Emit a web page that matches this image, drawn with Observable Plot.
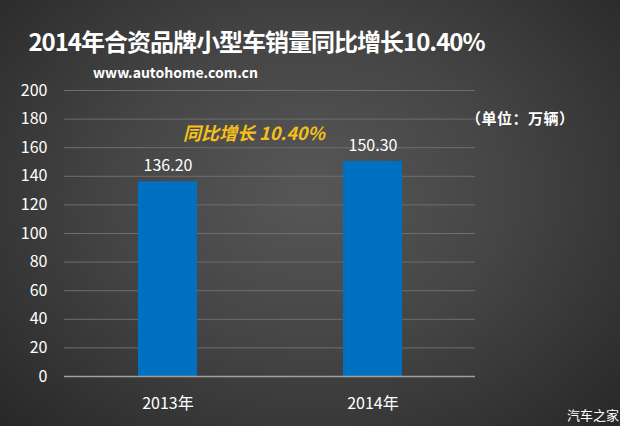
<!DOCTYPE html>
<html><head><meta charset="utf-8">
<script src="https://cdn.jsdelivr.net/npm/d3@7"></script>
<script src="https://cdn.jsdelivr.net/npm/@observablehq/plot@0.6"></script>
<style>
html,body{margin:0;padding:0;}
#wrap{position:relative;width:620px;height:426px;overflow:hidden;
 background:radial-gradient(ellipse 70% 80% at 50% 45%, #575757 0%, #454545 45%, #272727 100%);
 font-family:"Noto Sans CJK SC","Open Sans",sans-serif;color:#fff;}
.t{position:absolute;white-space:nowrap;}
</style></head><body>
<div id="wrap">
<div class="t" id="title" style="left:0;width:513px;text-align:center;top:23px;font-size:24px;font-weight:bold;letter-spacing:-1px;">2014年合资品牌小型车销量同比增长10.40%</div>
<div class="t" style="left:93px;top:62px;font-size:14px;font-weight:bold;">www.autohome.com.cn</div>
<div class="t" style="left:466px;top:107px;font-size:15px;font-weight:bold;letter-spacing:0.5px;">（单位：万辆）</div>
<div class="t" style="left:183px;top:119px;font-size:18px;font-weight:bold;font-style:italic;color:#f5c01a;">同比增长 10.40%</div>
<div class="t" style="left:567px;top:405px;font-size:13px;">汽车之家</div>
<div id="chart" style="position:absolute;left:0;top:0;"></div>
</div>
<script>
const years = ["2013年", "2014年"];
const sales = [136.20, 150.30];
const yTicks = [0, 20, 40, 60, 80, 100, 120, 140, 160, 180, 200];

const data = years.map((y, i) => ({year: y, value: sales[i]}));

const chart = Plot.plot({
  width: 620,
  height: 426,
  marginTop: 90,
  marginBottom: 50,
  marginLeft: 64,
  marginRight: 145,
  style: {background: "transparent", color: "#fff", fontFamily: "'Noto Sans CJK SC','Open Sans',sans-serif", fontSize: "16px"},
  x: {domain: years, paddingInner: 0.713, paddingOuter: 0.357, label: null, tickSize: 0, tickPadding: 21},
  y: {domain: [0, 200], ticks: yTicks, label: null, tickSize: 0, tickPadding: 17},
  marks: [
    Plot.ruleY(yTicks.filter(d => d > 0), {stroke: "#6e6e6e", strokeWidth: 1}),
    Plot.barY(data, {x: "year", y: "value", fill: "#0070c0"}),
    Plot.ruleY([0], {stroke: "#a0a0a0", strokeWidth: 1.5}),
    Plot.text(data, {x: "year", y: "value", text: d => d.value.toFixed(2), dy: -16, fill: "#fff", fontSize: 16})
  ]
});
document.getElementById("chart").appendChild(chart);
</script>
</body></html>
